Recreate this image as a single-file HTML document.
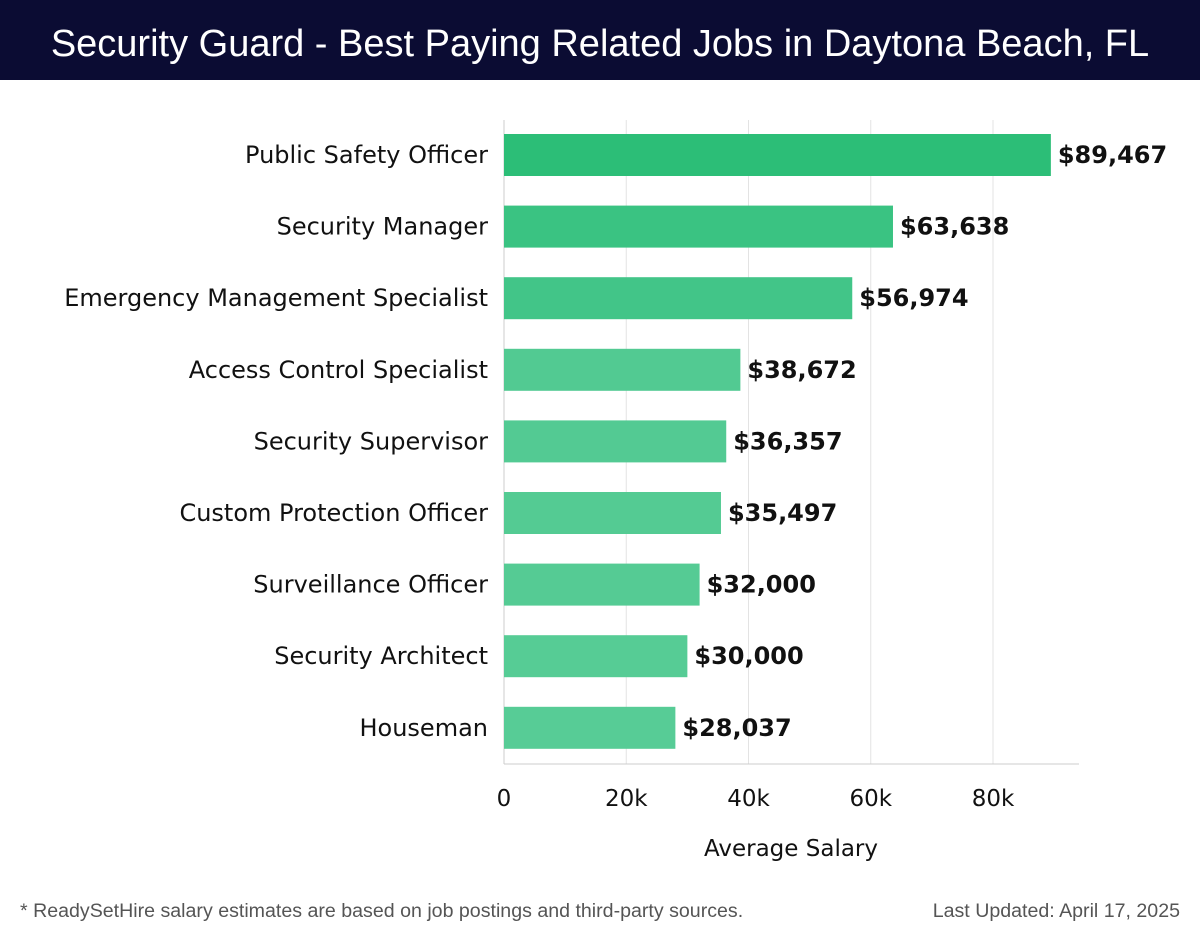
<!DOCTYPE html>
<html><head><meta charset="utf-8"><style>
body{margin:0;width:1200px;height:940px;background:#fff;font-family:"DejaVu Sans","Liberation Sans",sans-serif;overflow:hidden}
#title{position:absolute;left:0;top:0;width:1200px;height:80px;background:#0b0c33;color:#fff;font-size:38px;text-align:center;line-height:88px;font-family:"Liberation Sans",sans-serif}
.foot{position:absolute;top:900px;font-size:19.6px;color:#555;font-family:"Liberation Sans",sans-serif}
</style></head><body>
<div id="title">Security Guard - Best Paying Related Jobs in Daytona Beach, FL</div>
<svg id="chart" width="1200" height="940" style="position:absolute;left:0;top:0"></svg>
<div class="foot" style="left:20px">* ReadySetHire salary estimates are based on job postings and third-party sources.</div>
<div class="foot" style="right:20px">Last Updated: April 17, 2025</div>
<script>
const categories=["Public Safety Officer","Security Manager","Emergency Management Specialist","Access Control Specialist","Security Supervisor","Custom Protection Officer","Surveillance Officer","Security Architect","Houseman"];
const values=[89467,63638,56974,38672,36357,35497,32000,30000,28037];
const ticks=[0,20000,40000,60000,80000];
const tickLabels=["0","20k","40k","60k","80k"];
const NS="http://www.w3.org/2000/svg";
const svg=document.getElementById("chart");
const x0=504,xPer=489/80000,top0=120,bottom=764,step=71.6,firstC=155,bh=42;
const xs=v=>x0+v*xPer;
const yc=i=>firstC+i*step;
function mk(t,a,p){const e=document.createElementNS(NS,t);for(const k in a)e.setAttribute(k,a[k]);(p||svg).appendChild(e);return e;}
ticks.forEach((t,i)=>{
 const g=mk("line",{x1:xs(t),x2:xs(t),y1:top0,y2:bottom,stroke:"#e3e3e3","stroke-width":1});
 
 
 const tl=mk("text",{x:xs(t),y:806,"text-anchor":"middle","font-size":23,fill:"#111"});
 tl.textContent=tickLabels[i];
 
 
});
const ax=mk("line",{x1:x0,x2:1079,y1:bottom,y2:bottom,stroke:"#ccc","stroke-width":1});


const ay=mk("line",{x1:x0,x2:x0,y1:top0,y2:bottom,stroke:"#ccc","stroke-width":1});


const colors=["#2cbe77","#3ac382","#42c588","#52ca92","#53ca93","#54cb93","#55cb94","#56cc95","#57cc96"];
categories.forEach((c,i)=>{
 const b=mk("rect",{x:x0,y:yc(i)-bh/2,width:xs(values[i])-x0,height:bh,fill:colors[i]});
 
 
 const l=mk("text",{x:488,y:yc(i)+8,"text-anchor":"end","font-size":24,fill:"#111"});
 l.textContent=c;
 
 
 const v=mk("text",{x:xs(values[i])+7,y:yc(i)+8,"font-size":24,"font-weight":"bold",fill:"#111"});
 v.textContent="$"+values[i].toLocaleString("en-US");
 
 
});
const at=mk("text",{x:791,y:856,"text-anchor":"middle","font-size":23,fill:"#111"});
at.textContent="Average Salary";


</script>
</body></html>
